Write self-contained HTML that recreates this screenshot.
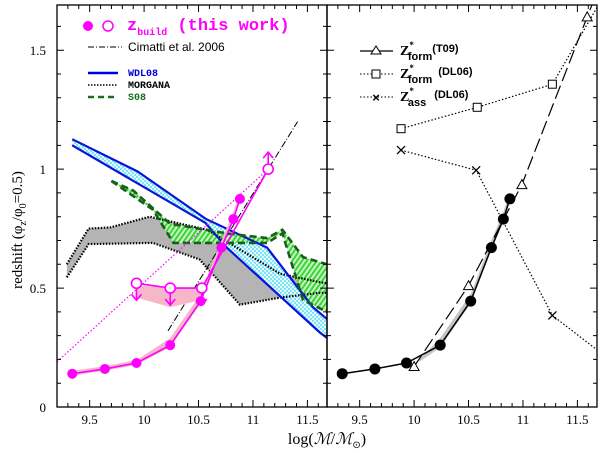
<!DOCTYPE html>
<html><head><meta charset="utf-8">
<style>
html,body{margin:0;padding:0;background:#fff;}
svg{display:block;font-family:"Liberation Serif",serif;}
</style></head>
<body>
<svg id="chart" width="600" height="453" viewBox="0 0 600 453" xmlns="http://www.w3.org/2000/svg">
<defs>
<pattern id="cyanDots" width="4" height="4" patternUnits="userSpaceOnUse"><rect width="4" height="4" fill="#e6fbff"/><circle cx="1" cy="1" r="0.9" fill="#33d6ee"/><circle cx="3" cy="3" r="0.9" fill="#33d6ee"/></pattern>
<pattern id="greenHatch" width="4" height="4" patternUnits="userSpaceOnUse" patternTransform="rotate(35)"><rect width="4" height="4" fill="#c8f5c0"/><rect width="2" height="4" fill="#3bd43b"/></pattern>
</defs>
<g id="gL"></g>
<g id="gR"></g>
<g id="axes"></g>
<text transform="translate(22,230) rotate(-90)" text-anchor="middle" font-size="15">redshift (φ<tspan font-size="10" dy="4">z</tspan><tspan dy="-4">/φ</tspan><tspan font-size="10" dy="4">0</tspan><tspan dy="-4">=0.5)</tspan></text>
<text x="327" y="444" text-anchor="middle" font-size="16">log(<tspan font-style="italic">ℳ</tspan>/<tspan font-style="italic">ℳ</tspan><tspan font-size="10" dy="4">⊙</tspan><tspan dy="-4">)</tspan></text>
<g font-family="Liberation Mono, monospace">
<circle cx="88" cy="26" r="5" fill="#ff00ff"/>
<circle cx="108" cy="26" r="5" fill="none" stroke="#ff00ff" stroke-width="1.5"/>
<text x="127" y="30" fill="#ff00ff" font-size="17" font-weight="bold">z<tspan font-size="10" dy="5">build</tspan><tspan dy="-5"> (this work)</tspan></text>
<line x1="88" y1="47" x2="122" y2="47" stroke="#000" stroke-dasharray="6,2,1,2"/>
<text x="128" y="51" font-family="Liberation Sans, sans-serif" font-size="12">Cimatti et al. 2006</text>
<line x1="88" y1="73" x2="118" y2="73" stroke="#0000dd" stroke-width="2.5"/>
<text x="128" y="76" fill="#0000dd" font-size="10" font-weight="bold">WDL08</text>
<line x1="88" y1="85" x2="118" y2="85" stroke="#000" stroke-width="1.5" stroke-dasharray="1.5,1.5"/>
<text x="128" y="88" font-size="10" font-weight="bold">MORGANA</text>
<line x1="88" y1="97" x2="118" y2="97" stroke="#1a6e1a" stroke-width="2.5" stroke-dasharray="6,4"/>
<text x="128" y="100" fill="#1a6e1a" font-size="10" font-weight="bold">S08</text>
</g>
<g font-family="Liberation Sans, sans-serif" font-weight="bold">
<line x1="360" y1="51" x2="393" y2="51" stroke="#000" stroke-width="1.2"/>
<polygon points="376,46 371,54 381,54" fill="#fff" stroke="#000"/>
<text x="400" y="55" font-size="14" font-family="Liberation Serif, serif">Z<tspan font-size="9" dy="-7">*</tspan><tspan font-size="11" dx="-6" dy="12" font-family="Liberation Sans, sans-serif">form</tspan><tspan font-size="11" dy="-8" font-family="Liberation Sans, sans-serif">(T09)</tspan></text>
<line x1="360" y1="74" x2="393" y2="74" stroke="#000" stroke-dasharray="1.5,2"/>
<rect x="372" y="70" width="8" height="8" fill="#fff" stroke="#000"/>
<text x="400" y="78" font-size="14" font-family="Liberation Serif, serif">Z<tspan font-size="9" dy="-7">*</tspan><tspan font-size="11" dx="-6" dy="12" font-family="Liberation Sans, sans-serif">form</tspan><tspan font-size="11" dx="6" dy="-8" font-family="Liberation Sans, sans-serif">(DL06)</tspan></text>
<line x1="360" y1="97" x2="393" y2="97" stroke="#000" stroke-dasharray="1.5,2"/>
<text x="376" y="102" font-size="13" text-anchor="middle">×</text>
<text x="400" y="101" font-size="14" font-family="Liberation Serif, serif">Z<tspan font-size="9" dy="-7">*</tspan><tspan font-size="11" dx="-6" dy="12" font-family="Liberation Sans, sans-serif">ass</tspan><tspan font-size="11" dx="8" dy="-8" font-family="Liberation Sans, sans-serif">(DL06)</tspan></text>
</g>
</svg>
<script>
const massBuild = [9.34, 9.64, 9.93, 10.24, 10.52, 10.71, 10.82, 10.88];
const zBuild = [0.14, 0.16, 0.185, 0.26, 0.445, 0.67, 0.79, 0.875];
const massUpper = [9.93, 10.24, 10.53];
const zUpper = [0.52, 0.50, 0.50];
const massLower = [11.14];
const zLower = [1.0];
const massPinkDotted = [9.2, 11.14];
const zPinkDotted = [0.19, 1.0];
const massCimatti = [10.22, 11.41];
const zCimatti = [0.32, 1.2];
const massWdlUp = [9.34, 9.94, 10.57, 11.13, 11.55, 11.68];
const zWdlUp = [1.126, 0.99, 0.79, 0.67, 0.42, 0.37];
const massWdlLo = [9.34, 10.56, 10.76, 11.61, 11.68];
const zWdlLo = [1.10, 0.775, 0.67, 0.315, 0.29];
const massMorUp = [9.29, 9.49, 9.69, 10.05, 10.58, 11.25, 11.61, 11.68];
const zMorUp = [0.60, 0.75, 0.755, 0.80, 0.745, 0.56, 0.525, 0.52];
const massMorLo = [9.29, 9.49, 10.08, 10.51, 10.88, 11.25, 11.61, 11.68];
const zMorLo = [0.545, 0.685, 0.69, 0.62, 0.43, 0.46, 0.48, 0.48];
const massS08Up = [9.7, 9.9, 10.24, 10.76, 11.13, 11.27, 11.46, 11.68];
const zS08Up = [0.95, 0.91, 0.77, 0.73, 0.71, 0.745, 0.63, 0.6];
const massS08Lo = [9.7, 10.08, 10.27, 10.76, 11.13, 11.27, 11.46, 11.68];
const zS08Lo = [0.95, 0.83, 0.69, 0.69, 0.69, 0.73, 0.45, 0.40];
const massT09 = [10.0, 10.5, 10.99, 11.59];
const zT09 = [0.17, 0.51, 0.935, 1.64];
const massDLform = [9.88, 10.58, 11.27];
const zDLform = [1.17, 1.26, 1.357];
const massDLass = [9.88, 10.57, 11.27];
const zDLass = [1.08, 0.995, 0.385];
const xTicks = [9.5, 10, 10.5, 11, 11.5];
const yTicks = [0, 0.5, 1, 1.5];

const XMIN = 9.2, XMAX = 11.68, YMIN = 0, YMAX = 1.69;
const PL = 57, PR = 327, PW = 270, PB = 407, PT = 5;
function sx(panelLeft, v){ return panelLeft + (v - XMIN) / (XMAX - XMIN) * PW; }
function sy(v){ return PB - (v - YMIN) / (YMAX - YMIN) * (PB - PT); }
const NS = "http://www.w3.org/2000/svg";
function mk(parent, tag, attrs){ const e = document.createElementNS(NS, tag); for (const k in attrs) e.setAttribute(k, attrs[k]); parent.appendChild(e); return e; }
function pts(left, xs, ys){ return xs.map((x,i)=> sx(left,x).toFixed(1)+","+sy(ys[i]).toFixed(1)); }

const gL = document.getElementById("gL"), gR = document.getElementById("gR"), ax = document.getElementById("axes");
const cp = mk(document.querySelector("defs"), "clipPath", {id:"cpL"});
mk(cp, "rect", {x:PL, y:PT, width:PW, height:PB-PT});
const cp2 = mk(document.querySelector("defs"), "clipPath", {id:"cpR"});
mk(cp2, "rect", {x:PR, y:PT, width:PW, height:PB-PT});
gL.setAttribute("clip-path","url(#cpL)");
gR.setAttribute("clip-path","url(#cpR)");

function band(g, left, xa, ya, xb, yb, fill, name){
  const p = pts(left, xa, ya).concat(pts(left, xb, yb).reverse());
  const e = mk(g, "polygon", {points:p.join(" "), fill:fill, stroke:"none"});
  
  
}
function line(g, left, xs, ys, attrs, name){
  const a = Object.assign({points:pts(left,xs,ys).join(" "), fill:"none"}, attrs);
  const e = mk(g, "polyline", a);
  
  
}

band(gL, PL, massMorUp, zMorUp, massMorLo, zMorLo, "#b4b4b4", "morgana-band");
band(gL, PL, massWdlUp, zWdlUp, massWdlLo, zWdlLo, "url(#cyanDots)", "wdl08-band");
band(gL, PL, massS08Up, zS08Up, massS08Lo, zS08Lo, "url(#greenHatch)", "s08-band");
line(gL, PL, massMorUp, zMorUp, {stroke:"#000","stroke-width":2.2,"stroke-dasharray":"1.5,1.5"}, "morgana-upper");
line(gL, PL, massMorLo, zMorLo, {stroke:"#000","stroke-width":2.2,"stroke-dasharray":"1.5,1.5"}, "morgana-lower");
line(gL, PL, massWdlUp, zWdlUp, {stroke:"#0a14d8","stroke-width":2.2}, "wdl08-upper");
line(gL, PL, massWdlLo, zWdlLo, {stroke:"#0a14d8","stroke-width":2.2}, "wdl08-lower");
line(gL, PL, massS08Up, zS08Up, {stroke:"#1a5e1a","stroke-width":2.6,"stroke-dasharray":"7,4"}, "s08-upper");
line(gL, PL, massS08Lo, zS08Lo, {stroke:"#1a5e1a","stroke-width":2.6,"stroke-dasharray":"7,4"}, "s08-lower");
line(gL, PL, massPinkDotted, zPinkDotted, {stroke:"#ff00ff","stroke-width":1.2,"stroke-dasharray":"1.5,2"}, "zbuild-dotted-fit");
line(gL, PL, massCimatti, zCimatti, {stroke:"#000","stroke-width":1,"stroke-dasharray":"7,2,1,2"}, "cimatti-line");
const bUp = zBuild.map((z,i)=> z + (i>=3 ? 0.03 : 0.012));
const bLo = zBuild.map((z,i)=> z - 0.008);
band(gL, PL, massBuild, bUp, massBuild, bLo, "#f6b8c8", "zbuild-error-band");
band(gL, PL, massUpper, [zUpper[0]-0.01, zUpper[1]+0.005, zUpper[2]], massUpper, [zUpper[0]-0.06, zUpper[1]-0.08, zUpper[2]-0.05], "#f6b8c8", "zbuild-upper-band");
line(gL, PL, massBuild, zBuild, {stroke:"#ff00ff","stroke-width":1.6}, "zbuild-filled-line");
line(gL, PL, massUpper.concat(massLower), zUpper.concat(zLower), {stroke:"#ff00ff","stroke-width":1.6}, "zbuild-open-line");
massBuild.forEach((m,i)=>{
  const c = mk(gL, "circle", {cx:sx(PL,m), cy:sy(zBuild[i]), r:5, fill:"#ff00ff"});
  
  
});
massUpper.forEach((m,i)=>{
  const X = sx(PL,m), Y = sy(zUpper[i]);
  const a = mk(gL, "path", {d:`M${X},${Y} V${Y+17} M${X-5},${Y+11} L${X},${Y+17} L${X+5},${Y+11}`, stroke:"#ff00ff", "stroke-width":1.6, fill:"none"});
  
  
  const c = mk(gL, "circle", {cx:X, cy:Y, r:5, fill:"#fff", stroke:"#ff00ff", "stroke-width":1.6});
  
  
});
massLower.forEach((m,i)=>{
  const X = sx(PL,m), Y = sy(zLower[i]);
  const a = mk(gL, "path", {d:`M${X},${Y} V${Y-17} M${X-5},${Y-11} L${X},${Y-17} L${X+5},${Y-11}`, stroke:"#ff00ff", "stroke-width":1.6, fill:"none"});
  
  
  const c = mk(gL, "circle", {cx:X, cy:Y, r:5, fill:"#fff", stroke:"#ff00ff", "stroke-width":1.6});
  
  
});

const gbx = massBuild.slice(3), gbz = zBuild.slice(3);
band(gR, PR, [10.05].concat(gbx), [0.2].concat(gbz.map(z=>z+0.03)), [10.05].concat(gbx), [0.19].concat(gbz.map(z=>z-0.01)), "#c4c4c4", "zbuild-grey-band");
line(gR, PR, massDLform.concat([11.68]), zDLform.concat([1.68]), {stroke:"#000","stroke-width":1.2,"stroke-dasharray":"1.5,2"}, "dl06-form-line");
line(gR, PR, massDLass.concat([11.68]), zDLass.concat([0.24]), {stroke:"#000","stroke-width":1.2,"stroke-dasharray":"1.5,2"}, "dl06-ass-line");
line(gR, PR, massT09.concat([11.66]), zT09.concat([1.72]), {stroke:"#000","stroke-width":1.2,"stroke-dasharray":"14,5"}, "t09-line");
line(gR, PR, massBuild, zBuild, {stroke:"#000","stroke-width":1.5}, "zbuild-black-line");
massBuild.forEach((m,i)=>{
  const c = mk(gR, "circle", {cx:sx(PR,m), cy:sy(zBuild[i]), r:5.5, fill:"#000"});
  
  
});
massT09.forEach((m,i)=>{
  const X = sx(PR,m), Y = sy(zT09[i]);
  const t = mk(gR, "polygon", {points:`${X},${Y-5} ${X-5},${Y+4} ${X+5},${Y+4}`, fill:"#fff", stroke:"#000"});
  
  
});
massDLform.forEach((m,i)=>{
  const X = sx(PR,m), Y = sy(zDLform[i]);
  const r = mk(gR, "rect", {x:X-4, y:Y-4, width:8, height:8, fill:"#fff", stroke:"#000"});
  
  
});
massDLass.forEach((m,i)=>{
  const X = sx(PR,m), Y = sy(zDLass[i]);
  const p = mk(gR, "path", {d:`M${X-4},${Y-4} L${X+4},${Y+4} M${X+4},${Y-4} L${X-4},${Y+4}`, stroke:"#000", "stroke-width":1.3});
  
  
});

[PL, PR].forEach((left, pi)=>{
  const f = mk(ax, "rect", {x:left, y:PT, width:PW, height:PB-PT, fill:"none", stroke:"#000", "stroke-width":1.3});
  
  
  let d = "";
  for (let k = 93; k <= 116; k++){
    const v = k/10; const X = sx(left, v); const major = (k % 5 === 0); const L = major ? 7 : 4;
    d += `M${X},${PB} V${PB-L} M${X},${PT} V${PT+L} `;
  }
  for (let k = 1; k <= 16; k++){
    const v = k/10; const Y = sy(v); const major = (k % 5 === 0); const L = major ? 7 : 4;
    d += `M${left},${Y} H${left+L} M${left+PW},${Y} H${left+PW-L} `;
  }
  const t = mk(ax, "path", {d:d, stroke:"#000", "stroke-width":1});
  
  
  xTicks.forEach(v=>{
    const tx = mk(ax, "text", {x:sx(left,v), y:424, "text-anchor":"middle", "font-size":13});
    tx.textContent = String(v);
    
    
  });
});
yTicks.forEach(v=>{
  const t = mk(ax, "text", {x:46, y:sy(v)+5, "text-anchor":"end", "font-size":13});
  t.textContent = String(v);
  
  
});
</script>
</body></html>
